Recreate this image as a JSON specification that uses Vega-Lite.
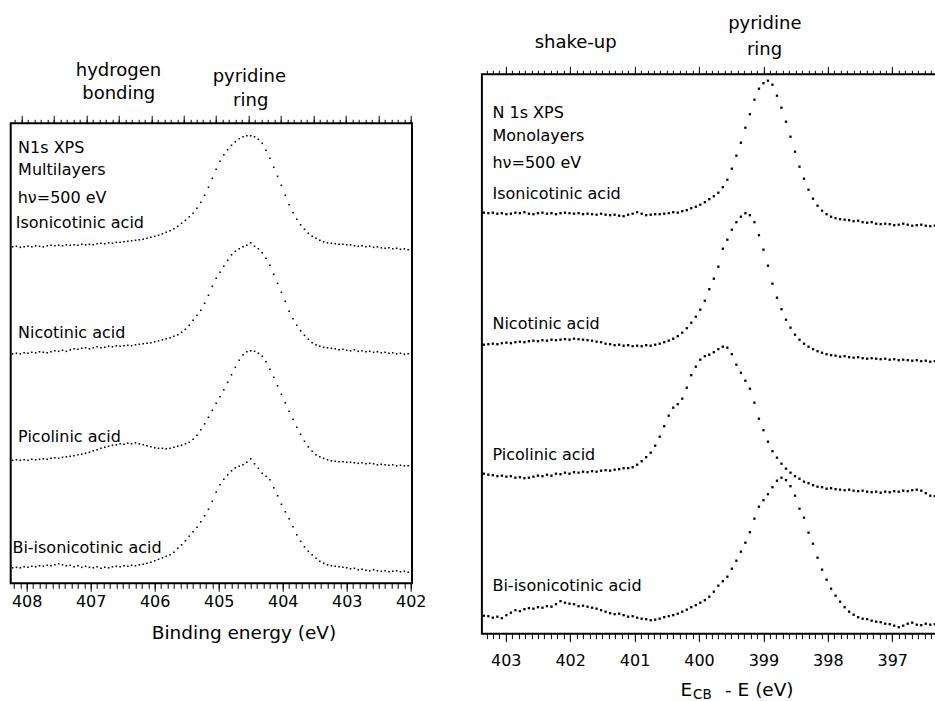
{
"$schema": "https://vega.github.io/schema/vega-lite/v6.json",
"padding": {"left": 9.7, "top": 13.3, "right": 0, "bottom": 0},
"spacing": 53.2,
"bounds": "full",
"config": {
  "view": {"stroke": "#000", "strokeWidth": 2},
  "font": "DejaVu Sans",
  "axis": {"grid": false, "domain": false, "tickColor": "#000", "tickWidth": 1, "labelColor": "#000", "labelFont": "DejaVu Sans", "labelFontSize": 16, "labelFlush": false, "labelOverlap": false},
  "text": {"font": "DejaVu Sans", "color": "#000"}
},
"datasets": {
"L": [
{"s":"Iso","x":408.22,"y":336.5},{"s":"Iso","x":408.16,"y":337},{"s":"Iso","x":408.10,"y":336},{"s":"Iso","x":408.04,"y":336.5},{"s":"Iso","x":407.98,"y":337},{"s":"Iso","x":407.92,"y":336.5},{"s":"Iso","x":407.86,"y":337.5},{"s":"Iso","x":407.80,"y":337},{"s":"Iso","x":407.74,"y":336.5},{"s":"Iso","x":407.68,"y":337.5},
{"s":"Iso","x":407.62,"y":338},{"s":"Iso","x":407.56,"y":337.5},{"s":"Iso","x":407.50,"y":338},{"s":"Iso","x":407.44,"y":337.5},{"s":"Iso","x":407.38,"y":338.5},{"s":"Iso","x":407.32,"y":338},{"s":"Iso","x":407.26,"y":338.5},{"s":"Iso","x":407.20,"y":338},{"s":"Iso","x":407.14,"y":339},{"s":"Iso","x":407.08,"y":338.5},
{"s":"Iso","x":407.02,"y":339},{"s":"Iso","x":406.96,"y":338.5},{"s":"Iso","x":406.90,"y":339.5},{"s":"Iso","x":406.84,"y":340},{"s":"Iso","x":406.78,"y":339.5},{"s":"Iso","x":406.72,"y":340.5},{"s":"Iso","x":406.66,"y":340},{"s":"Iso","x":406.60,"y":341},{"s":"Iso","x":406.54,"y":341},{"s":"Iso","x":406.48,"y":341.5},
{"s":"Iso","x":406.42,"y":342},{"s":"Iso","x":406.36,"y":342.5},{"s":"Iso","x":406.30,"y":343},{"s":"Iso","x":406.24,"y":343.5},{"s":"Iso","x":406.18,"y":344},{"s":"Iso","x":406.12,"y":345},{"s":"Iso","x":406.06,"y":346},{"s":"Iso","x":406.00,"y":347},{"s":"Iso","x":405.94,"y":348},{"s":"Iso","x":405.88,"y":349.5},
{"s":"Iso","x":405.82,"y":351},{"s":"Iso","x":405.76,"y":352.5},{"s":"Iso","x":405.70,"y":354.5},{"s":"Iso","x":405.64,"y":357},{"s":"Iso","x":405.58,"y":360},{"s":"Iso","x":405.52,"y":363},{"s":"Iso","x":405.46,"y":366.5},{"s":"Iso","x":405.40,"y":370},{"s":"Iso","x":405.34,"y":375},{"s":"Iso","x":405.28,"y":381},
{"s":"Iso","x":405.22,"y":388},{"s":"Iso","x":405.16,"y":396},{"s":"Iso","x":405.10,"y":405},{"s":"Iso","x":405.04,"y":414},{"s":"Iso","x":404.98,"y":422},{"s":"Iso","x":404.92,"y":428.5},{"s":"Iso","x":404.86,"y":433.5},{"s":"Iso","x":404.80,"y":438},{"s":"Iso","x":404.74,"y":441.5},{"s":"Iso","x":404.68,"y":444.5},
{"s":"Iso","x":404.62,"y":446.5},{"s":"Iso","x":404.56,"y":447.5},{"s":"Iso","x":404.50,"y":447.5},{"s":"Iso","x":404.44,"y":446.5},{"s":"Iso","x":404.38,"y":444},{"s":"Iso","x":404.32,"y":440},{"s":"Iso","x":404.26,"y":433},{"s":"Iso","x":404.20,"y":425},{"s":"Iso","x":404.14,"y":416},{"s":"Iso","x":404.08,"y":407},
{"s":"Iso","x":404.02,"y":398},{"s":"Iso","x":403.96,"y":388},{"s":"Iso","x":403.90,"y":378.5},{"s":"Iso","x":403.84,"y":370.5},{"s":"Iso","x":403.78,"y":364},{"s":"Iso","x":403.72,"y":358.5},{"s":"Iso","x":403.66,"y":354},{"s":"Iso","x":403.60,"y":350},{"s":"Iso","x":403.54,"y":347},{"s":"Iso","x":403.48,"y":345},
{"s":"Iso","x":403.42,"y":343},{"s":"Iso","x":403.36,"y":341.5},{"s":"Iso","x":403.30,"y":340.5},{"s":"Iso","x":403.24,"y":340},{"s":"Iso","x":403.18,"y":339.5},{"s":"Iso","x":403.12,"y":339},{"s":"Iso","x":403.06,"y":339},{"s":"Iso","x":403.00,"y":338.5},{"s":"Iso","x":402.94,"y":338.5},{"s":"Iso","x":402.88,"y":337.5},
{"s":"Iso","x":402.82,"y":337},{"s":"Iso","x":402.76,"y":337.5},{"s":"Iso","x":402.70,"y":336.5},{"s":"Iso","x":402.64,"y":337},{"s":"Iso","x":402.58,"y":336},{"s":"Iso","x":402.52,"y":336.5},{"s":"Iso","x":402.46,"y":335.5},{"s":"Iso","x":402.40,"y":335},{"s":"Iso","x":402.34,"y":335.5},{"s":"Iso","x":402.28,"y":334.5},
{"s":"Iso","x":402.22,"y":335},{"s":"Iso","x":402.16,"y":334},{"s":"Iso","x":402.10,"y":334.5},{"s":"Iso","x":402.04,"y":333.5},
{"s":"Nic","x":408.22,"y":229.5},{"s":"Nic","x":408.16,"y":230},{"s":"Nic","x":408.10,"y":229.5},{"s":"Nic","x":408.04,"y":230.5},{"s":"Nic","x":407.98,"y":230},{"s":"Nic","x":407.92,"y":231},{"s":"Nic","x":407.86,"y":230.5},{"s":"Nic","x":407.80,"y":231.5},{"s":"Nic","x":407.74,"y":231},{"s":"Nic","x":407.68,"y":230.5},
{"s":"Nic","x":407.62,"y":231.5},{"s":"Nic","x":407.56,"y":232.5},{"s":"Nic","x":407.50,"y":232},{"s":"Nic","x":407.44,"y":233},{"s":"Nic","x":407.38,"y":232},{"s":"Nic","x":407.32,"y":233.5},{"s":"Nic","x":407.26,"y":234.5},{"s":"Nic","x":407.20,"y":234},{"s":"Nic","x":407.14,"y":235},{"s":"Nic","x":407.08,"y":235.5},
{"s":"Nic","x":407.02,"y":234.5},{"s":"Nic","x":406.96,"y":235.5},{"s":"Nic","x":406.90,"y":236.5},{"s":"Nic","x":406.84,"y":235.5},{"s":"Nic","x":406.78,"y":236},{"s":"Nic","x":406.72,"y":237},{"s":"Nic","x":406.66,"y":236.5},{"s":"Nic","x":406.60,"y":237.5},{"s":"Nic","x":406.54,"y":237},{"s":"Nic","x":406.48,"y":237.5},
{"s":"Nic","x":406.42,"y":238},{"s":"Nic","x":406.36,"y":237.5},{"s":"Nic","x":406.30,"y":238.5},{"s":"Nic","x":406.24,"y":239},{"s":"Nic","x":406.18,"y":239.5},{"s":"Nic","x":406.12,"y":240},{"s":"Nic","x":406.06,"y":240.5},{"s":"Nic","x":406.00,"y":241.5},{"s":"Nic","x":405.94,"y":242.5},{"s":"Nic","x":405.88,"y":243.5},
{"s":"Nic","x":405.82,"y":244.5},{"s":"Nic","x":405.76,"y":245.5},{"s":"Nic","x":405.70,"y":247},{"s":"Nic","x":405.64,"y":248.5},{"s":"Nic","x":405.58,"y":251},{"s":"Nic","x":405.52,"y":254},{"s":"Nic","x":405.46,"y":258},{"s":"Nic","x":405.40,"y":263},{"s":"Nic","x":405.34,"y":268},{"s":"Nic","x":405.28,"y":273},
{"s":"Nic","x":405.22,"y":280},{"s":"Nic","x":405.16,"y":288},{"s":"Nic","x":405.10,"y":297},{"s":"Nic","x":405.04,"y":305},{"s":"Nic","x":404.98,"y":311},{"s":"Nic","x":404.92,"y":317},{"s":"Nic","x":404.86,"y":323},{"s":"Nic","x":404.80,"y":328.5},{"s":"Nic","x":404.74,"y":332},{"s":"Nic","x":404.68,"y":334.5},
{"s":"Nic","x":404.62,"y":336.5},{"s":"Nic","x":404.56,"y":338},{"s":"Nic","x":404.50,"y":340.5},{"s":"Nic","x":404.44,"y":337},{"s":"Nic","x":404.38,"y":334.5},{"s":"Nic","x":404.32,"y":330.5},{"s":"Nic","x":404.26,"y":325},{"s":"Nic","x":404.20,"y":318},{"s":"Nic","x":404.14,"y":309},{"s":"Nic","x":404.08,"y":300},
{"s":"Nic","x":404.02,"y":291},{"s":"Nic","x":403.96,"y":282},{"s":"Nic","x":403.90,"y":272},{"s":"Nic","x":403.84,"y":264.5},{"s":"Nic","x":403.78,"y":258},{"s":"Nic","x":403.72,"y":252.5},{"s":"Nic","x":403.66,"y":248},{"s":"Nic","x":403.60,"y":244},{"s":"Nic","x":403.54,"y":240.5},{"s":"Nic","x":403.48,"y":238.5},
{"s":"Nic","x":403.42,"y":237},{"s":"Nic","x":403.36,"y":236},{"s":"Nic","x":403.30,"y":235.5},{"s":"Nic","x":403.24,"y":235},{"s":"Nic","x":403.18,"y":234.5},{"s":"Nic","x":403.12,"y":233.5},{"s":"Nic","x":403.06,"y":234},{"s":"Nic","x":403.00,"y":233},{"s":"Nic","x":402.94,"y":232.5},{"s":"Nic","x":402.88,"y":233.5},
{"s":"Nic","x":402.82,"y":232},{"s":"Nic","x":402.76,"y":232.5},{"s":"Nic","x":402.70,"y":231.5},{"s":"Nic","x":402.64,"y":232},{"s":"Nic","x":402.58,"y":231},{"s":"Nic","x":402.52,"y":231.5},{"s":"Nic","x":402.46,"y":230.5},{"s":"Nic","x":402.40,"y":231},{"s":"Nic","x":402.34,"y":230},{"s":"Nic","x":402.28,"y":230.5},
{"s":"Nic","x":402.22,"y":229.5},{"s":"Nic","x":402.16,"y":230},{"s":"Nic","x":402.10,"y":229},{"s":"Nic","x":402.04,"y":229.5},
{"s":"Pic","x":408.22,"y":123},{"s":"Pic","x":408.16,"y":123.5},{"s":"Pic","x":408.10,"y":123},{"s":"Pic","x":408.04,"y":123.5},{"s":"Pic","x":407.98,"y":123},{"s":"Pic","x":407.92,"y":124},{"s":"Pic","x":407.86,"y":123.5},{"s":"Pic","x":407.80,"y":124},{"s":"Pic","x":407.74,"y":124.5},{"s":"Pic","x":407.68,"y":124},
{"s":"Pic","x":407.62,"y":125},{"s":"Pic","x":407.56,"y":125.5},{"s":"Pic","x":407.50,"y":125},{"s":"Pic","x":407.44,"y":126},{"s":"Pic","x":407.38,"y":126.5},{"s":"Pic","x":407.32,"y":127},{"s":"Pic","x":407.26,"y":127.5},{"s":"Pic","x":407.20,"y":128.5},{"s":"Pic","x":407.14,"y":129},{"s":"Pic","x":407.08,"y":130},
{"s":"Pic","x":407.02,"y":131},{"s":"Pic","x":406.96,"y":132.5},{"s":"Pic","x":406.90,"y":133.5},{"s":"Pic","x":406.84,"y":135},{"s":"Pic","x":406.78,"y":136},{"s":"Pic","x":406.72,"y":137},{"s":"Pic","x":406.66,"y":138},{"s":"Pic","x":406.60,"y":138.5},{"s":"Pic","x":406.54,"y":139.5},{"s":"Pic","x":406.48,"y":139},
{"s":"Pic","x":406.42,"y":140},{"s":"Pic","x":406.36,"y":139.5},{"s":"Pic","x":406.30,"y":140.5},{"s":"Pic","x":406.24,"y":139.5},{"s":"Pic","x":406.18,"y":138.5},{"s":"Pic","x":406.12,"y":137.5},{"s":"Pic","x":406.06,"y":136.5},{"s":"Pic","x":406.00,"y":135.5},{"s":"Pic","x":405.94,"y":135},{"s":"Pic","x":405.88,"y":135},
{"s":"Pic","x":405.82,"y":134.5},{"s":"Pic","x":405.76,"y":135},{"s":"Pic","x":405.70,"y":136},{"s":"Pic","x":405.64,"y":137},{"s":"Pic","x":405.58,"y":138},{"s":"Pic","x":405.52,"y":139.5},{"s":"Pic","x":405.46,"y":141},{"s":"Pic","x":405.40,"y":144},{"s":"Pic","x":405.34,"y":148},{"s":"Pic","x":405.28,"y":153.5},
{"s":"Pic","x":405.22,"y":159.5},{"s":"Pic","x":405.16,"y":166},{"s":"Pic","x":405.10,"y":173},{"s":"Pic","x":405.04,"y":180},{"s":"Pic","x":404.98,"y":186.5},{"s":"Pic","x":404.92,"y":193.5},{"s":"Pic","x":404.86,"y":201},{"s":"Pic","x":404.80,"y":208.5},{"s":"Pic","x":404.74,"y":216},{"s":"Pic","x":404.68,"y":223},
{"s":"Pic","x":404.62,"y":228.5},{"s":"Pic","x":404.56,"y":231.5},{"s":"Pic","x":404.50,"y":232.5},{"s":"Pic","x":404.44,"y":232},{"s":"Pic","x":404.38,"y":230},{"s":"Pic","x":404.32,"y":227},{"s":"Pic","x":404.26,"y":221.5},{"s":"Pic","x":404.20,"y":214},{"s":"Pic","x":404.14,"y":206},{"s":"Pic","x":404.08,"y":197.5},
{"s":"Pic","x":404.02,"y":189},{"s":"Pic","x":403.96,"y":180.5},{"s":"Pic","x":403.90,"y":172},{"s":"Pic","x":403.84,"y":164},{"s":"Pic","x":403.78,"y":156},{"s":"Pic","x":403.72,"y":149},{"s":"Pic","x":403.66,"y":142},{"s":"Pic","x":403.60,"y":136.5},{"s":"Pic","x":403.54,"y":132},{"s":"Pic","x":403.48,"y":128.5},
{"s":"Pic","x":403.42,"y":126.5},{"s":"Pic","x":403.36,"y":125},{"s":"Pic","x":403.30,"y":123.5},{"s":"Pic","x":403.24,"y":122.5},{"s":"Pic","x":403.18,"y":122},{"s":"Pic","x":403.12,"y":121.5},{"s":"Pic","x":403.06,"y":121.5},{"s":"Pic","x":403.00,"y":121},{"s":"Pic","x":402.94,"y":121},{"s":"Pic","x":402.88,"y":120.5},
{"s":"Pic","x":402.82,"y":120},{"s":"Pic","x":402.76,"y":120.5},{"s":"Pic","x":402.70,"y":119.5},{"s":"Pic","x":402.64,"y":120},{"s":"Pic","x":402.58,"y":119.5},{"s":"Pic","x":402.52,"y":118.5},{"s":"Pic","x":402.46,"y":119},{"s":"Pic","x":402.40,"y":118.5},{"s":"Pic","x":402.34,"y":118},{"s":"Pic","x":402.28,"y":118.5},
{"s":"Pic","x":402.22,"y":117.5},{"s":"Pic","x":402.16,"y":118},{"s":"Pic","x":402.10,"y":117.5},{"s":"Pic","x":402.04,"y":117.5},
{"s":"Bi","x":408.22,"y":15.5},{"s":"Bi","x":408.16,"y":16},{"s":"Bi","x":408.10,"y":15.5},{"s":"Bi","x":408.04,"y":16.5},{"s":"Bi","x":407.98,"y":16},{"s":"Bi","x":407.92,"y":17},{"s":"Bi","x":407.86,"y":16.5},{"s":"Bi","x":407.80,"y":17.5},{"s":"Bi","x":407.74,"y":17},{"s":"Bi","x":407.68,"y":18},
{"s":"Bi","x":407.62,"y":17.5},{"s":"Bi","x":407.56,"y":18.5},{"s":"Bi","x":407.50,"y":19.5},{"s":"Bi","x":407.44,"y":18.5},{"s":"Bi","x":407.38,"y":17.5},{"s":"Bi","x":407.32,"y":18},{"s":"Bi","x":407.26,"y":16.5},{"s":"Bi","x":407.20,"y":17.5},{"s":"Bi","x":407.14,"y":16},{"s":"Bi","x":407.08,"y":17},
{"s":"Bi","x":407.02,"y":16},{"s":"Bi","x":406.96,"y":15.5},{"s":"Bi","x":406.90,"y":16.5},{"s":"Bi","x":406.84,"y":15},{"s":"Bi","x":406.78,"y":16},{"s":"Bi","x":406.72,"y":15.5},{"s":"Bi","x":406.66,"y":16.5},{"s":"Bi","x":406.60,"y":17},{"s":"Bi","x":406.54,"y":16.5},{"s":"Bi","x":406.48,"y":17.5},
{"s":"Bi","x":406.42,"y":17},{"s":"Bi","x":406.36,"y":18},{"s":"Bi","x":406.30,"y":17.5},{"s":"Bi","x":406.24,"y":18.5},{"s":"Bi","x":406.18,"y":19},{"s":"Bi","x":406.12,"y":20},{"s":"Bi","x":406.06,"y":21},{"s":"Bi","x":406.00,"y":22.5},{"s":"Bi","x":405.94,"y":24},{"s":"Bi","x":405.88,"y":25.5},
{"s":"Bi","x":405.82,"y":27},{"s":"Bi","x":405.76,"y":28.5},{"s":"Bi","x":405.70,"y":31},{"s":"Bi","x":405.64,"y":35},{"s":"Bi","x":405.58,"y":38.5},{"s":"Bi","x":405.52,"y":42.5},{"s":"Bi","x":405.46,"y":47},{"s":"Bi","x":405.40,"y":51.5},{"s":"Bi","x":405.34,"y":56},{"s":"Bi","x":405.28,"y":61.5},
{"s":"Bi","x":405.22,"y":67.5},{"s":"Bi","x":405.16,"y":74},{"s":"Bi","x":405.10,"y":82},{"s":"Bi","x":405.04,"y":91},{"s":"Bi","x":404.98,"y":98.5},{"s":"Bi","x":404.92,"y":104},{"s":"Bi","x":404.86,"y":108.5},{"s":"Bi","x":404.80,"y":112.5},{"s":"Bi","x":404.74,"y":115.5},{"s":"Bi","x":404.68,"y":117},
{"s":"Bi","x":404.62,"y":118.5},{"s":"Bi","x":404.56,"y":121},{"s":"Bi","x":404.50,"y":124.5},{"s":"Bi","x":404.44,"y":119.5},{"s":"Bi","x":404.38,"y":115},{"s":"Bi","x":404.32,"y":110},{"s":"Bi","x":404.26,"y":107},{"s":"Bi","x":404.20,"y":103.5},{"s":"Bi","x":404.14,"y":95.5},{"s":"Bi","x":404.08,"y":87.5},
{"s":"Bi","x":404.02,"y":79},{"s":"Bi","x":403.96,"y":71.5},{"s":"Bi","x":403.90,"y":64.5},{"s":"Bi","x":403.84,"y":56.5},{"s":"Bi","x":403.78,"y":48.5},{"s":"Bi","x":403.72,"y":42},{"s":"Bi","x":403.66,"y":36.5},{"s":"Bi","x":403.60,"y":32},{"s":"Bi","x":403.54,"y":28.5},{"s":"Bi","x":403.48,"y":25},
{"s":"Bi","x":403.42,"y":22},{"s":"Bi","x":403.36,"y":20},{"s":"Bi","x":403.30,"y":18.5},{"s":"Bi","x":403.24,"y":17.5},{"s":"Bi","x":403.18,"y":17},{"s":"Bi","x":403.12,"y":16.5},{"s":"Bi","x":403.06,"y":16},{"s":"Bi","x":403.00,"y":15.5},{"s":"Bi","x":402.94,"y":14.5},{"s":"Bi","x":402.88,"y":15},
{"s":"Bi","x":402.82,"y":13.5},{"s":"Bi","x":402.76,"y":14},{"s":"Bi","x":402.70,"y":13},{"s":"Bi","x":402.64,"y":12.5},{"s":"Bi","x":402.58,"y":13.5},{"s":"Bi","x":402.52,"y":12.5},{"s":"Bi","x":402.46,"y":12},{"s":"Bi","x":402.40,"y":12.5},{"s":"Bi","x":402.34,"y":11.5},{"s":"Bi","x":402.28,"y":12},
{"s":"Bi","x":402.22,"y":12.5},{"s":"Bi","x":402.16,"y":11.5},{"s":"Bi","x":402.10,"y":12},{"s":"Bi","x":402.04,"y":11}
],
"R": [
{"s":"Iso","x":403.34,"y":421},{"s":"Iso","x":403.27,"y":420.5},{"s":"Iso","x":403.20,"y":421},{"s":"Iso","x":403.13,"y":420},{"s":"Iso","x":403.06,"y":420.5},{"s":"Iso","x":402.99,"y":419.5},{"s":"Iso","x":402.92,"y":420},{"s":"Iso","x":402.85,"y":421},{"s":"Iso","x":402.78,"y":420.5},{"s":"Iso","x":402.71,"y":421.5},
{"s":"Iso","x":402.64,"y":420},{"s":"Iso","x":402.57,"y":419.5},{"s":"Iso","x":402.50,"y":420.5},{"s":"Iso","x":402.43,"y":421},{"s":"Iso","x":402.36,"y":420},{"s":"Iso","x":402.29,"y":420.5},{"s":"Iso","x":402.22,"y":419.5},{"s":"Iso","x":402.15,"y":420.5},{"s":"Iso","x":402.08,"y":421},{"s":"Iso","x":402.01,"y":420.5},
{"s":"Iso","x":401.94,"y":420},{"s":"Iso","x":401.87,"y":420.5},{"s":"Iso","x":401.80,"y":419.5},{"s":"Iso","x":401.73,"y":420},{"s":"Iso","x":401.66,"y":419.5},{"s":"Iso","x":401.59,"y":419},{"s":"Iso","x":401.52,"y":420},{"s":"Iso","x":401.45,"y":419},{"s":"Iso","x":401.38,"y":418.5},{"s":"Iso","x":401.31,"y":419},
{"s":"Iso","x":401.24,"y":418},{"s":"Iso","x":401.17,"y":417.5},{"s":"Iso","x":401.10,"y":419},{"s":"Iso","x":401.03,"y":420},{"s":"Iso","x":400.96,"y":421.5},{"s":"Iso","x":400.89,"y":420},{"s":"Iso","x":400.82,"y":418.5},{"s":"Iso","x":400.75,"y":419},{"s":"Iso","x":400.68,"y":419.5},{"s":"Iso","x":400.61,"y":419.5},
{"s":"Iso","x":400.54,"y":420},{"s":"Iso","x":400.47,"y":420.5},{"s":"Iso","x":400.40,"y":421.5},{"s":"Iso","x":400.33,"y":421},{"s":"Iso","x":400.26,"y":422.5},{"s":"Iso","x":400.19,"y":423.5},{"s":"Iso","x":400.12,"y":425.5},{"s":"Iso","x":400.05,"y":427},{"s":"Iso","x":399.98,"y":429},{"s":"Iso","x":399.91,"y":431.5},
{"s":"Iso","x":399.84,"y":434.5},{"s":"Iso","x":399.77,"y":437.5},{"s":"Iso","x":399.70,"y":441},{"s":"Iso","x":399.63,"y":446.5},{"s":"Iso","x":399.56,"y":454},{"s":"Iso","x":399.49,"y":465},{"s":"Iso","x":399.42,"y":478},{"s":"Iso","x":399.35,"y":491},{"s":"Iso","x":399.28,"y":506},{"s":"Iso","x":399.21,"y":519.5},
{"s":"Iso","x":399.14,"y":534},{"s":"Iso","x":399.07,"y":545},{"s":"Iso","x":399.00,"y":550.5},{"s":"Iso","x":398.93,"y":553},{"s":"Iso","x":398.86,"y":549},{"s":"Iso","x":398.79,"y":538},{"s":"Iso","x":398.72,"y":526},{"s":"Iso","x":398.65,"y":512},{"s":"Iso","x":398.58,"y":497},{"s":"Iso","x":398.51,"y":482},
{"s":"Iso","x":398.44,"y":467},{"s":"Iso","x":398.37,"y":455},{"s":"Iso","x":398.30,"y":444},{"s":"Iso","x":398.23,"y":435},{"s":"Iso","x":398.16,"y":428},{"s":"Iso","x":398.09,"y":423},{"s":"Iso","x":398.02,"y":419.5},{"s":"Iso","x":397.95,"y":417},{"s":"Iso","x":397.88,"y":415.5},{"s":"Iso","x":397.81,"y":414.5},
{"s":"Iso","x":397.74,"y":414},{"s":"Iso","x":397.67,"y":413.5},{"s":"Iso","x":397.60,"y":412.5},{"s":"Iso","x":397.53,"y":413},{"s":"Iso","x":397.46,"y":411.5},{"s":"Iso","x":397.39,"y":411},{"s":"Iso","x":397.32,"y":411.5},{"s":"Iso","x":397.25,"y":410},{"s":"Iso","x":397.18,"y":409.5},{"s":"Iso","x":397.11,"y":410},
{"s":"Iso","x":397.04,"y":409.5},{"s":"Iso","x":396.97,"y":408.5},{"s":"Iso","x":396.90,"y":409},{"s":"Iso","x":396.83,"y":410},{"s":"Iso","x":396.76,"y":409},{"s":"Iso","x":396.69,"y":408},{"s":"Iso","x":396.62,"y":408.5},{"s":"Iso","x":396.55,"y":409},{"s":"Iso","x":396.48,"y":408},{"s":"Iso","x":396.41,"y":407.5},
{"s":"Iso","x":396.34,"y":408},
{"s":"Nic","x":403.34,"y":289},{"s":"Nic","x":403.27,"y":289.5},{"s":"Nic","x":403.20,"y":290},{"s":"Nic","x":403.13,"y":289.5},{"s":"Nic","x":403.06,"y":290.5},{"s":"Nic","x":402.99,"y":291},{"s":"Nic","x":402.92,"y":290.5},{"s":"Nic","x":402.85,"y":291.5},{"s":"Nic","x":402.78,"y":292},{"s":"Nic","x":402.71,"y":291.5},
{"s":"Nic","x":402.64,"y":292.5},{"s":"Nic","x":402.57,"y":293},{"s":"Nic","x":402.50,"y":292.5},{"s":"Nic","x":402.43,"y":293.5},{"s":"Nic","x":402.36,"y":293},{"s":"Nic","x":402.29,"y":294},{"s":"Nic","x":402.22,"y":293.5},{"s":"Nic","x":402.15,"y":294},{"s":"Nic","x":402.08,"y":294.5},{"s":"Nic","x":402.01,"y":294},
{"s":"Nic","x":401.94,"y":295},{"s":"Nic","x":401.87,"y":294.5},{"s":"Nic","x":401.80,"y":294},{"s":"Nic","x":401.73,"y":293.5},{"s":"Nic","x":401.66,"y":293},{"s":"Nic","x":401.59,"y":292},{"s":"Nic","x":401.52,"y":291.5},{"s":"Nic","x":401.45,"y":290},{"s":"Nic","x":401.38,"y":289.5},{"s":"Nic","x":401.31,"y":288.5},
{"s":"Nic","x":401.24,"y":289},{"s":"Nic","x":401.17,"y":288},{"s":"Nic","x":401.10,"y":288.5},{"s":"Nic","x":401.03,"y":287.5},{"s":"Nic","x":400.96,"y":288},{"s":"Nic","x":400.89,"y":287.5},{"s":"Nic","x":400.82,"y":288.5},{"s":"Nic","x":400.75,"y":288},{"s":"Nic","x":400.68,"y":289},{"s":"Nic","x":400.61,"y":290},
{"s":"Nic","x":400.54,"y":291.5},{"s":"Nic","x":400.47,"y":293},{"s":"Nic","x":400.40,"y":295},{"s":"Nic","x":400.33,"y":297.5},{"s":"Nic","x":400.26,"y":301},{"s":"Nic","x":400.19,"y":305.5},{"s":"Nic","x":400.12,"y":311},{"s":"Nic","x":400.05,"y":317},{"s":"Nic","x":399.98,"y":324},{"s":"Nic","x":399.91,"y":333},
{"s":"Nic","x":399.84,"y":344.5},{"s":"Nic","x":399.77,"y":355},{"s":"Nic","x":399.70,"y":367},{"s":"Nic","x":399.63,"y":385},{"s":"Nic","x":399.56,"y":394},{"s":"Nic","x":399.49,"y":404},{"s":"Nic","x":399.42,"y":411.5},{"s":"Nic","x":399.35,"y":417},{"s":"Nic","x":399.28,"y":420.5},{"s":"Nic","x":399.21,"y":418.5},
{"s":"Nic","x":399.14,"y":411.5},{"s":"Nic","x":399.07,"y":398.5},{"s":"Nic","x":399.00,"y":384},{"s":"Nic","x":398.93,"y":368},{"s":"Nic","x":398.86,"y":350},{"s":"Nic","x":398.79,"y":336},{"s":"Nic","x":398.72,"y":324.5},{"s":"Nic","x":398.65,"y":314},{"s":"Nic","x":398.58,"y":306},{"s":"Nic","x":398.51,"y":299},
{"s":"Nic","x":398.44,"y":294},{"s":"Nic","x":398.37,"y":290},{"s":"Nic","x":398.30,"y":287},{"s":"Nic","x":398.23,"y":284.5},{"s":"Nic","x":398.16,"y":282.5},{"s":"Nic","x":398.09,"y":281},{"s":"Nic","x":398.02,"y":279.5},{"s":"Nic","x":397.95,"y":278.5},{"s":"Nic","x":397.88,"y":278},{"s":"Nic","x":397.81,"y":277},
{"s":"Nic","x":397.74,"y":277.5},{"s":"Nic","x":397.67,"y":276.5},{"s":"Nic","x":397.60,"y":276},{"s":"Nic","x":397.53,"y":276.5},{"s":"Nic","x":397.46,"y":275.5},{"s":"Nic","x":397.39,"y":275},{"s":"Nic","x":397.32,"y":275.5},{"s":"Nic","x":397.25,"y":275},{"s":"Nic","x":397.18,"y":274.5},{"s":"Nic","x":397.11,"y":275},
{"s":"Nic","x":397.04,"y":274},{"s":"Nic","x":396.97,"y":274.5},{"s":"Nic","x":396.90,"y":273.5},{"s":"Nic","x":396.83,"y":274},{"s":"Nic","x":396.76,"y":273.5},{"s":"Nic","x":396.69,"y":273},{"s":"Nic","x":396.62,"y":273.5},{"s":"Nic","x":396.55,"y":272.5},{"s":"Nic","x":396.48,"y":273},{"s":"Nic","x":396.41,"y":272},
{"s":"Nic","x":396.34,"y":272.5},
{"s":"Pic","x":403.34,"y":160},{"s":"Pic","x":403.27,"y":159},{"s":"Pic","x":403.20,"y":158.5},{"s":"Pic","x":403.13,"y":157.5},{"s":"Pic","x":403.06,"y":158},{"s":"Pic","x":402.99,"y":157},{"s":"Pic","x":402.92,"y":157.5},{"s":"Pic","x":402.85,"y":156},{"s":"Pic","x":402.78,"y":156.5},{"s":"Pic","x":402.71,"y":155.5},
{"s":"Pic","x":402.64,"y":156},{"s":"Pic","x":402.57,"y":157},{"s":"Pic","x":402.50,"y":158},{"s":"Pic","x":402.43,"y":157.5},{"s":"Pic","x":402.36,"y":159},{"s":"Pic","x":402.29,"y":158},{"s":"Pic","x":402.22,"y":160},{"s":"Pic","x":402.15,"y":159.5},{"s":"Pic","x":402.08,"y":161},{"s":"Pic","x":402.01,"y":160},
{"s":"Pic","x":401.94,"y":161.5},{"s":"Pic","x":401.87,"y":161},{"s":"Pic","x":401.80,"y":162},{"s":"Pic","x":401.73,"y":161.5},{"s":"Pic","x":401.66,"y":162.5},{"s":"Pic","x":401.59,"y":162},{"s":"Pic","x":401.52,"y":163},{"s":"Pic","x":401.45,"y":163.5},{"s":"Pic","x":401.38,"y":163},{"s":"Pic","x":401.31,"y":164},
{"s":"Pic","x":401.24,"y":164.5},{"s":"Pic","x":401.17,"y":165.5},{"s":"Pic","x":401.10,"y":165.5},{"s":"Pic","x":401.03,"y":166.5},{"s":"Pic","x":400.96,"y":169},{"s":"Pic","x":400.89,"y":172.5},{"s":"Pic","x":400.82,"y":176.5},{"s":"Pic","x":400.75,"y":181},{"s":"Pic","x":400.68,"y":188},{"s":"Pic","x":400.61,"y":197},
{"s":"Pic","x":400.54,"y":207.5},{"s":"Pic","x":400.47,"y":218},{"s":"Pic","x":400.40,"y":226},{"s":"Pic","x":400.33,"y":229.5},{"s":"Pic","x":400.26,"y":235},{"s":"Pic","x":400.19,"y":246},{"s":"Pic","x":400.12,"y":258.5},{"s":"Pic","x":400.05,"y":267},{"s":"Pic","x":399.98,"y":274},{"s":"Pic","x":399.91,"y":277.5},
{"s":"Pic","x":399.84,"y":279},{"s":"Pic","x":399.77,"y":281.5},{"s":"Pic","x":399.70,"y":284.5},{"s":"Pic","x":399.63,"y":287},{"s":"Pic","x":399.56,"y":286},{"s":"Pic","x":399.49,"y":279.5},{"s":"Pic","x":399.42,"y":269},{"s":"Pic","x":399.35,"y":261},{"s":"Pic","x":399.28,"y":253},{"s":"Pic","x":399.21,"y":245},
{"s":"Pic","x":399.14,"y":231},{"s":"Pic","x":399.07,"y":215},{"s":"Pic","x":399.00,"y":203.5},{"s":"Pic","x":398.93,"y":192},{"s":"Pic","x":398.86,"y":182.5},{"s":"Pic","x":398.79,"y":176},{"s":"Pic","x":398.72,"y":170},{"s":"Pic","x":398.65,"y":165},{"s":"Pic","x":398.58,"y":161},{"s":"Pic","x":398.51,"y":157.5},
{"s":"Pic","x":398.44,"y":155},{"s":"Pic","x":398.37,"y":152},{"s":"Pic","x":398.30,"y":150.5},{"s":"Pic","x":398.23,"y":148.5},{"s":"Pic","x":398.16,"y":147},{"s":"Pic","x":398.09,"y":146.5},{"s":"Pic","x":398.02,"y":145},{"s":"Pic","x":397.95,"y":145.5},{"s":"Pic","x":397.88,"y":144.5},{"s":"Pic","x":397.81,"y":144},
{"s":"Pic","x":397.74,"y":143.5},{"s":"Pic","x":397.67,"y":144},{"s":"Pic","x":397.60,"y":143},{"s":"Pic","x":397.53,"y":142.5},{"s":"Pic","x":397.46,"y":143},{"s":"Pic","x":397.39,"y":142},{"s":"Pic","x":397.32,"y":141.5},{"s":"Pic","x":397.25,"y":142},{"s":"Pic","x":397.18,"y":141},{"s":"Pic","x":397.11,"y":142},
{"s":"Pic","x":397.04,"y":141.5},{"s":"Pic","x":396.97,"y":142.5},{"s":"Pic","x":396.90,"y":142},{"s":"Pic","x":396.83,"y":143},{"s":"Pic","x":396.76,"y":142.5},{"s":"Pic","x":396.69,"y":143.5},{"s":"Pic","x":396.62,"y":144},{"s":"Pic","x":396.55,"y":143},{"s":"Pic","x":396.48,"y":140.5},{"s":"Pic","x":396.41,"y":138},
{"s":"Pic","x":396.34,"y":137.5},
{"s":"Bi","x":403.34,"y":18},{"s":"Bi","x":403.27,"y":17.5},{"s":"Bi","x":403.20,"y":16},{"s":"Bi","x":403.13,"y":17},{"s":"Bi","x":403.06,"y":15.5},{"s":"Bi","x":402.99,"y":18.5},{"s":"Bi","x":402.92,"y":21},{"s":"Bi","x":402.85,"y":23.5},{"s":"Bi","x":402.78,"y":22.5},{"s":"Bi","x":402.71,"y":24.5},
{"s":"Bi","x":402.64,"y":25.5},{"s":"Bi","x":402.57,"y":25},{"s":"Bi","x":402.50,"y":26.5},{"s":"Bi","x":402.43,"y":26},{"s":"Bi","x":402.36,"y":27.5},{"s":"Bi","x":402.29,"y":27},{"s":"Bi","x":402.22,"y":29.5},{"s":"Bi","x":402.15,"y":32.5},{"s":"Bi","x":402.08,"y":31},{"s":"Bi","x":402.01,"y":30},
{"s":"Bi","x":401.94,"y":29.5},{"s":"Bi","x":401.87,"y":27.5},{"s":"Bi","x":401.80,"y":28},{"s":"Bi","x":401.73,"y":27},{"s":"Bi","x":401.66,"y":26},{"s":"Bi","x":401.59,"y":25},{"s":"Bi","x":401.52,"y":23.5},{"s":"Bi","x":401.45,"y":22},{"s":"Bi","x":401.38,"y":20.5},{"s":"Bi","x":401.31,"y":19.5},
{"s":"Bi","x":401.24,"y":20},{"s":"Bi","x":401.17,"y":18.5},{"s":"Bi","x":401.10,"y":17},{"s":"Bi","x":401.03,"y":17.5},{"s":"Bi","x":400.96,"y":16},{"s":"Bi","x":400.89,"y":15},{"s":"Bi","x":400.82,"y":14.5},{"s":"Bi","x":400.75,"y":13.5},{"s":"Bi","x":400.68,"y":14},{"s":"Bi","x":400.61,"y":15},
{"s":"Bi","x":400.54,"y":16.5},{"s":"Bi","x":400.47,"y":17.5},{"s":"Bi","x":400.40,"y":18.5},{"s":"Bi","x":400.33,"y":20},{"s":"Bi","x":400.26,"y":22},{"s":"Bi","x":400.19,"y":24},{"s":"Bi","x":400.12,"y":26.5},{"s":"Bi","x":400.05,"y":28.5},{"s":"Bi","x":399.98,"y":31},{"s":"Bi","x":399.91,"y":33.5},
{"s":"Bi","x":399.84,"y":37},{"s":"Bi","x":399.77,"y":42},{"s":"Bi","x":399.70,"y":48},{"s":"Bi","x":399.63,"y":52.5},{"s":"Bi","x":399.56,"y":57},{"s":"Bi","x":399.49,"y":65},{"s":"Bi","x":399.42,"y":73},{"s":"Bi","x":399.35,"y":82},{"s":"Bi","x":399.28,"y":91},{"s":"Bi","x":399.21,"y":101.5},
{"s":"Bi","x":399.14,"y":115},{"s":"Bi","x":399.07,"y":127},{"s":"Bi","x":399.00,"y":133.5},{"s":"Bi","x":398.93,"y":139.5},{"s":"Bi","x":398.86,"y":146.5},{"s":"Bi","x":398.79,"y":153},{"s":"Bi","x":398.72,"y":156},{"s":"Bi","x":398.65,"y":153.5},{"s":"Bi","x":398.58,"y":147.5},{"s":"Bi","x":398.51,"y":138},
{"s":"Bi","x":398.44,"y":125},{"s":"Bi","x":398.37,"y":116},{"s":"Bi","x":398.30,"y":101},{"s":"Bi","x":398.23,"y":90},{"s":"Bi","x":398.16,"y":76},{"s":"Bi","x":398.09,"y":64},{"s":"Bi","x":398.02,"y":54},{"s":"Bi","x":397.95,"y":45},{"s":"Bi","x":397.88,"y":38},{"s":"Bi","x":397.81,"y":32},
{"s":"Bi","x":397.74,"y":26.5},{"s":"Bi","x":397.67,"y":22},{"s":"Bi","x":397.60,"y":19},{"s":"Bi","x":397.53,"y":16.5},{"s":"Bi","x":397.46,"y":15},{"s":"Bi","x":397.39,"y":14.5},{"s":"Bi","x":397.32,"y":13},{"s":"Bi","x":397.25,"y":12},{"s":"Bi","x":397.18,"y":11.5},{"s":"Bi","x":397.11,"y":10},
{"s":"Bi","x":397.04,"y":9.5},{"s":"Bi","x":396.97,"y":8},{"s":"Bi","x":396.90,"y":6.5},{"s":"Bi","x":396.83,"y":8},{"s":"Bi","x":396.76,"y":10},{"s":"Bi","x":396.69,"y":11},{"s":"Bi","x":396.62,"y":9},{"s":"Bi","x":396.55,"y":8.5},{"s":"Bi","x":396.48,"y":10},{"s":"Bi","x":396.41,"y":9},
{"s":"Bi","x":396.34,"y":9.5}
],
"LT": [
{"t":"N1s XPS","x":408.134,"y":430},
{"t":"Multilayers","x":408.134,"y":408.4},
{"t":"hν=500 eV","x":408.14,"y":380},
{"t":"Isonicotinic acid","x":408.172,"y":355},
{"t":"Nicotinic acid","x":408.134,"y":245},
{"t":"Picolinic acid","x":408.134,"y":141.4},
{"t":"Bi-isonicotinic acid","x":408.223,"y":30}
],
"LA": [
{"t":"hydrogen","x":406.566,"y":507.4},
{"t":"bonding","x":406.562,"y":484},
{"t":"pyridine","x":404.522,"y":501.7},
{"t":"ring","x":404.5,"y":477.7}
],
"LX": [
{"t":"Binding energy (eV)","x":404.605,"y":-55.6}
],
"RT": [
{"t":"N 1s XPS","x":403.206,"y":516},
{"t":"Monolayers","x":403.206,"y":492.7},
{"t":"hν=500 eV","x":403.206,"y":466},
{"t":"Isonicotinic acid","x":403.206,"y":434.4},
{"t":"Nicotinic acid","x":403.206,"y":304.4},
{"t":"Picolinic acid","x":403.206,"y":173.4},
{"t":"Bi-isonicotinic acid","x":403.206,"y":42.7}
],
"RA": [
{"t":"shake-up","x":401.914,"y":586},
{"t":"pyridine","x":398.979,"y":604.4},
{"t":"ring","x":398.983,"y":578.7}
],
"RX": [
{"t":"E","x":400.287,"y":-62.8},
{"t":"- E (eV)","x":399.596,"y":-62.8}
],
"RS": [
{"t":"CB","x":400.093,"y":-65}
]
},
"hconcat": [
{
  "bounds": "flush",
  "spacing": 0,
  "vconcat": [
    {
      "width": 401.3,
      "height": 48.4,
      "view": {"stroke": null},
      "data": {"values": [{"t": ""}]},
      "mark": {"type": "text", "opacity": 0},
      "encoding": {"text": {"field": "t"}}
    },
    {
      "width": 401.3,
      "height": 460,
      "resolve": {"axis": {"x": "independent"}},
      "layer": [
        {
          "data": {"name": "L"},
          "mark": {"type": "point", "shape": "square", "filled": true, "size": 2.5, "color": "#000", "opacity": 1, "strokeWidth": 0},
          "encoding": {
            "x": {"field": "x", "type": "quantitative", "scale": {"domain": [401.98, 408.25], "reverse": true, "nice": false, "zero": false},
                  "axis": {"orient": "bottom", "values": [402,403,404,405,406,407,408], "tickSize": 8, "labelPadding": 2, "title": null, "format": "d"}},
            "y": {"field": "y", "type": "quantitative", "scale": {"domain": [0, 460], "nice": false, "zero": false}, "axis": null}
          }
        },
        {
          "data": {"name": "LT"},
          "mark": {"type": "text", "align": "left", "baseline": "alphabetic", "fontSize": 16},
          "encoding": {
            "x": {"field": "x", "type": "quantitative", "scale": {"domain": [401.98, 408.25], "reverse": true, "nice": false, "zero": false},
                  "axis": {"orient": "bottom", "values": [402,402.1,402.2,402.3,402.4,402.5,402.6,402.7,402.8,402.9,403,403.1,403.2,403.3,403.4,403.5,403.6,403.7,403.8,403.9,404,404.1,404.2,404.3,404.4,404.5,404.6,404.7,404.8,404.9,405,405.1,405.2,405.3,405.4,405.5,405.6,405.7,405.8,405.9,406,406.1,406.2,406.3,406.4,406.5,406.6,406.7,406.8,406.9,407,407.1,407.2,407.3,407.4,407.5,407.6,407.7,407.8,407.9,408,408.1,408.2], "tickSize": 5, "labels": false, "title": null}},
            "y": {"field": "y", "type": "quantitative", "scale": {"domain": [0, 460], "nice": false, "zero": false}, "axis": null},
            "text": {"field": "t"}
          }
        },
        {
          "data": {"name": "LA"},
          "mark": {"type": "text", "align": "center", "baseline": "alphabetic", "fontSize": 18},
          "encoding": {
            "x": {"field": "x", "type": "quantitative", "scale": {"domain": [401.98, 408.25], "reverse": true, "nice": false, "zero": false},
                  "axis": {"orient": "top", "values": [402,402.507,403.013,403.52,404.027,404.533,405.04,405.547,406.053,406.56,407.067,407.573,408.08], "tickSize": 8, "labels": false, "title": null}},
            "y": {"field": "y", "type": "quantitative", "scale": {"domain": [0, 460], "nice": false, "zero": false}, "axis": null},
            "text": {"field": "t"}
          }
        },
        {
          "data": {"name": "LX"},
          "mark": {"type": "text", "align": "center", "baseline": "alphabetic", "fontSize": 18.5},
          "encoding": {
            "x": {"field": "x", "type": "quantitative", "scale": {"domain": [401.98, 408.25], "reverse": true, "nice": false, "zero": false},
                  "axis": {"orient": "top", "values": [402,402.101,402.203,402.304,402.405,402.507,402.608,402.709,402.811,402.912,403.013,403.115,403.216,403.317,403.419,403.52,403.621,403.723,403.824,403.925,404.027,404.128,404.229,404.331,404.432,404.533,404.635,404.736,404.837,404.939,405.04,405.141,405.243,405.344,405.445,405.547,405.648,405.749,405.851,405.952,406.053,406.155,406.256,406.357,406.459,406.56,406.661,406.763,406.864,406.965,407.067,407.168,407.269,407.371,407.472,407.573,407.675,407.776,407.877,407.979,408.08,408.181], "tickSize": 4, "labels": false, "title": null}},
            "y": {"field": "y", "type": "quantitative", "scale": {"domain": [0, 460], "nice": false, "zero": false}, "axis": null},
            "text": {"field": "t"}
          }
        }
      ]
    }
  ]
},
{
  "width": 460,
  "height": 559.4,
  "resolve": {"axis": {"x": "independent"}},
  "layer": [
    {
      "data": {"name": "R"},
      "mark": {"type": "point", "shape": "square", "filled": true, "size": 5.3, "color": "#000", "opacity": 1, "strokeWidth": 0},
      "encoding": {
        "x": {"field": "x", "type": "quantitative", "scale": {"domain": [396.23, 403.37], "reverse": true, "nice": false, "zero": false},
              "axis": {"orient": "bottom", "values": [397,398,399,400,401,402,403], "tickSize": 8, "labelPadding": 11.3, "title": null, "format": "d"}},
        "y": {"field": "y", "type": "quantitative", "scale": {"domain": [0, 559.4], "nice": false, "zero": false}, "axis": null}
      }
    },
    {
      "data": {"name": "RT"},
      "mark": {"type": "text", "align": "left", "baseline": "alphabetic", "fontSize": 16},
      "encoding": {
        "x": {"field": "x", "type": "quantitative", "scale": {"domain": [396.23, 403.37], "reverse": true, "nice": false, "zero": false},
              "axis": {"orient": "bottom", "values": [396.3,396.4,396.5,396.6,396.7,396.8,396.9,397,397.1,397.2,397.3,397.4,397.5,397.6,397.7,397.8,397.9,398,398.1,398.2,398.3,398.4,398.5,398.6,398.7,398.8,398.9,399,399.1,399.2,399.3,399.4,399.5,399.6,399.7,399.8,399.9,400,400.1,400.2,400.3,400.4,400.5,400.6,400.7,400.8,400.9,401,401.1,401.2,401.3,401.4,401.5,401.6,401.7,401.8,401.9,402,402.1,402.2,402.3,402.4,402.5,402.6,402.7,402.8,402.9,403,403.1,403.2,403.3], "tickSize": 5, "labels": false, "title": null}},
        "y": {"field": "y", "type": "quantitative", "scale": {"domain": [0, 559.4], "nice": false, "zero": false}, "axis": null},
        "text": {"field": "t"}
      }
    },
    {
      "data": {"name": "RA"},
      "mark": {"type": "text", "align": "center", "baseline": "alphabetic", "fontSize": 18},
      "encoding": {
        "x": {"field": "x", "type": "quantitative", "scale": {"domain": [396.23, 403.37], "reverse": true, "nice": false, "zero": false},
              "axis": {"orient": "top", "values": [397,398,399,400,401,402,403], "tickSize": 8, "labels": false, "title": null}},
        "y": {"field": "y", "type": "quantitative", "scale": {"domain": [0, 559.4], "nice": false, "zero": false}, "axis": null},
        "text": {"field": "t"}
      }
    },
    {
      "data": {"name": "RX"},
      "mark": {"type": "text", "align": "left", "baseline": "alphabetic", "fontSize": 18.5},
      "encoding": {
        "x": {"field": "x", "type": "quantitative", "scale": {"domain": [396.23, 403.37], "reverse": true, "nice": false, "zero": false},
              "axis": {"orient": "top", "values": [396.3,396.4,396.5,396.6,396.7,396.8,396.9,397,397.1,397.2,397.3,397.4,397.5,397.6,397.7,397.8,397.9,398,398.1,398.2,398.3,398.4,398.5,398.6,398.7,398.8,398.9,399,399.1,399.2,399.3,399.4,399.5,399.6,399.7,399.8,399.9,400,400.1,400.2,400.3,400.4,400.5,400.6,400.7,400.8,400.9,401,401.1,401.2,401.3,401.4,401.5,401.6,401.7,401.8,401.9,402,402.1,402.2,402.3,402.4,402.5,402.6,402.7,402.8,402.9,403,403.1,403.2,403.3], "tickSize": 4, "labels": false, "title": null}},
        "y": {"field": "y", "type": "quantitative", "scale": {"domain": [0, 559.4], "nice": false, "zero": false}, "axis": null},
        "text": {"field": "t"}
      }
    },
    {
      "data": {"name": "RS"},
      "mark": {"type": "text", "align": "left", "baseline": "alphabetic", "fontSize": 13.5},
      "encoding": {
        "x": {"field": "x", "type": "quantitative", "scale": {"domain": [396.23, 403.37], "reverse": true, "nice": false, "zero": false}, "axis": null},
        "y": {"field": "y", "type": "quantitative", "scale": {"domain": [0, 559.4], "nice": false, "zero": false}, "axis": null},
        "text": {"field": "t"}
      }
    }
  ]
}
]
}
